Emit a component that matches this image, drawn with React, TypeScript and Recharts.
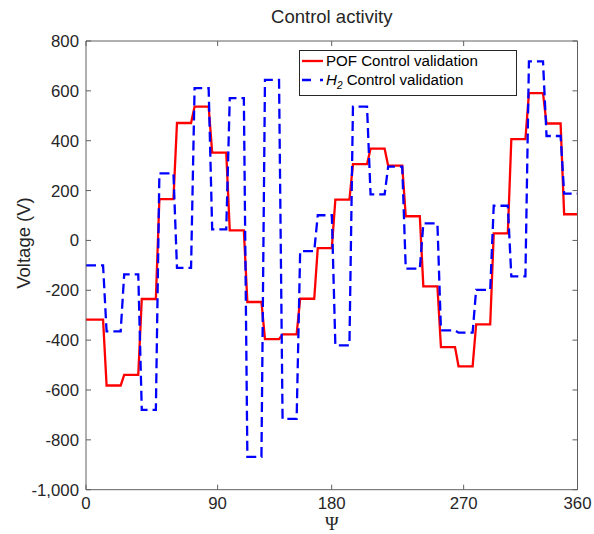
import React from 'react';
import { LineChart, Line, XAxis, YAxis, Label, Legend } from 'recharts';

// Step levels (V), one per control interval
const pofValues = [-318, -582, -539, -235, 166, 471, 537, 352, 40, -247, -396, -377, -234, -31, 164, 306, 368, 300, 97, -184, -428, -505, -337, 28, 406, 591, 469, 105];
const h2Values = [-100, -365, -136, -680, 269, -110, 611, 44, 571, -868, 644, -716, -43, 101, -421, 537, 185, 296, -113, 68, -361, -370, -198, 139, -144, 718, 419, 188];

// x axis (in control-interval units) and its tick labels
const X_END = 27.93;
const HOLD_START = 0.17;
const HOLD_END = 0.97;
const xTicks = [0, 7.48, 13.96, 21.46, 27.93];
const xTickLabels = ['0', '90', '180', '270', '360'];
const yTicks = [-1000, -800, -600, -400, -200, 0, 200, 400, 600, 800];

const data: { t: number; pof: number; h2: number }[] = [];
pofValues.forEach((v, k) => {
  const t0 = k === 0 ? 0 : k + HOLD_START;
  const t1 = k === pofValues.length - 1 ? X_END : k + HOLD_END;
  data.push({ t: t0, pof: v, h2: h2Values[k] });
  data.push({ t: t1, pof: v, h2: h2Values[k] });
});

const AX = '#606060';
const TXT = '#262626';
const FONT = '"Liberation Sans", Arial, Helvetica, sans-serif';
const TICK_FS = 16.8;
const TL = 5;
const DASH = '10 5';

const fmt = (v: number) => {
  const s = Math.abs(v).toString().replace(/\B(?=(\d{3})+(?!\d))/g, ',');
  return (v < 0 ? '-' : '') + s;
};

const LeftTick = (p: any) => (
  <g>
    <line x1={p.x + 7} x2={p.x + 7 + TL} y1={p.y} y2={p.y} stroke={AX} strokeWidth={1} />
    <text x={p.x} y={p.y} dy="0.36em" textAnchor="end" fontSize={TICK_FS} fill={TXT} fontFamily={FONT}>
      {fmt(p.payload.value)}
    </text>
  </g>
);
const RightTick = (p: any) => (
  <line x1={p.x - TL} x2={p.x} y1={p.y} y2={p.y} stroke={AX} strokeWidth={1} />
);
const BottomTick = (p: any) => {
  const i = xTicks.indexOf(p.payload.value);
  return (
    <g>
      <line x1={p.x} x2={p.x} y1={p.y - TL} y2={p.y} stroke={AX} strokeWidth={1} />
      <text x={p.x} y={p.y + 19.5} textAnchor="middle" fontSize={TICK_FS} fill={TXT} fontFamily={FONT}>
        {xTickLabels[i >= 0 ? i : 0]}
      </text>
    </g>
  );
};
const TopTick = (p: any) => (
  <line x1={p.x} x2={p.x} y1={p.y} y2={p.y + TL} stroke={AX} strokeWidth={1} />
);

const LegendBox = () => (
  <svg width={219} height={47} style={{ display: 'block' }}>
    <rect x={0.5} y={0.5} width={217} height={45} fill="#ffffff" stroke="#262626" strokeWidth={1} />
    <line x1={3} x2={24} y1={11} y2={11} stroke="#ff0000" strokeWidth={2.3} />
    <text x={27} y={16.3} fontSize={15.1} fill="#000" fontFamily={FONT}>POF Control validation</text>
    <line x1={3} x2={24} y1={30} y2={30} stroke="#0000ff" strokeWidth={2.3} strokeDasharray="9 9" />
    <text x={27} y={35.3} fontSize={15.1} fill="#000" fontFamily={FONT}>
      <tspan fontStyle="italic">H</tspan>
      <tspan fontStyle="italic" fontSize={10} dy={4}>2</tspan>
      <tspan dy={-4}> Control validation</tspan>
    </text>
  </svg>
);

export default function App() {
  return (
    <div style={{ position: 'absolute', left: 0, top: 0, width: 594, height: 534, background: '#fff' }}>
      <LineChart width={594} height={534} data={data} margin={{ top: 40, right: 15.5, bottom: 0, left: 0 }}>
        <XAxis
          dataKey="t"
          type="number"
          domain={[0, X_END]}
          ticks={xTicks}
          interval={0}
          height={44.3}
          tickSize={0}
          tickMargin={0}
          tickLine={false}
          axisLine={{ stroke: AX, strokeWidth: 1 }}
          tick={<BottomTick />}
          allowDataOverflow
        >
          <Label
            content={() => (
              <text x={331.75} y={529.5} textAnchor="middle" fontSize={18.5} fill={TXT} fontFamily='"Liberation Serif", "DejaVu Serif", serif'>
                Ψ
              </text>
            )}
          />
        </XAxis>
        <XAxis
          xAxisId="top"
          orientation="top"
          dataKey="t"
          type="number"
          domain={[0, X_END]}
          ticks={xTicks}
          interval={0}
          height={1}
          tickSize={0}
          tickMargin={0}
          tickLine={false}
          axisLine={{ stroke: AX, strokeWidth: 1 }}
          tick={<TopTick />}
          allowDataOverflow
        >
          <Label
            content={() => (
              <text x={331.75} y={23} textAnchor="middle" fontSize={18.5} fill={TXT} fontFamily={FONT}>
                Control activity
              </text>
            )}
          />
        </XAxis>
        <YAxis
          type="number"
          domain={[-1000, 800]}
          ticks={yTicks}
          interval={0}
          width={86}
          tickSize={0}
          tickMargin={7}
          tickLine={false}
          axisLine={{ stroke: AX, strokeWidth: 1 }}
          tick={<LeftTick />}
          allowDataOverflow
        >
          <Label
            content={() => (
              <text
                x={29.5}
                y={243}
                transform="rotate(-90 29.5 243)"
                textAnchor="middle"
                fontSize={18.5}
                fill={TXT}
                fontFamily={FONT}
              >
                Voltage (V)
              </text>
            )}
          />
        </YAxis>
        <YAxis
          yAxisId="right"
          orientation="right"
          type="number"
          domain={[-1000, 800]}
          ticks={yTicks}
          interval={0}
          width={1}
          tickSize={0}
          tickMargin={0}
          tickLine={false}
          axisLine={{ stroke: AX, strokeWidth: 1 }}
          tick={<RightTick />}
          allowDataOverflow
        />
        <Line
          dataKey="pof"
          type="linear"
          yAxisId="right"
          stroke="#ff0000"
          strokeWidth={2.3}
          strokeLinejoin="miter"
          dot={false}
          activeDot={false}
          isAnimationActive={false}
        />
        <Line
          dataKey="h2"
          type="linear"
          xAxisId="top"
          stroke="#0000ff"
          strokeWidth={2.3}
          strokeDasharray={DASH}
          strokeLinejoin="miter"
          dot={false}
          activeDot={false}
          isAnimationActive={false}
        />
        <Legend
          layout="vertical"
          align="center"
          verticalAlign="middle"
          wrapperStyle={{ position: 'absolute', left: 299, top: 50, width: 219, height: 47 }}
          content={() => <LegendBox />}
        />
      </LineChart>
    </div>
  );
}
